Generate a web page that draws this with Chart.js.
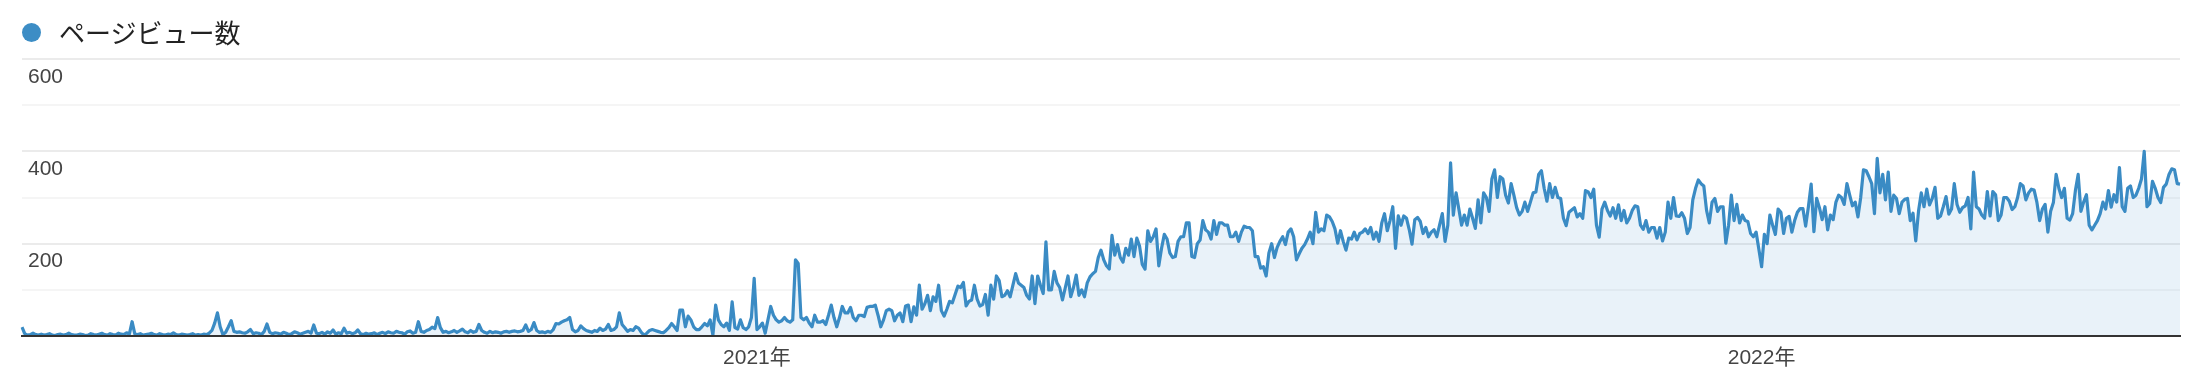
<!DOCTYPE html>
<html lang="ja">
<head>
<meta charset="utf-8">
<script src="https://cdn.jsdelivr.net/npm/chart.js@4.4.1/dist/chart.umd.min.js"></script>
<style>
  html, body { margin: 0; padding: 0; background: #fff; }
  #wrap { position: relative; width: 2202px; height: 378px; }
  #leyenda { position: absolute; left: 22px; top: 17px; height: 30px; display: flex; align-items: center;
             font: 26px/30px "Noto Sans CJK JP", sans-serif; color: #222; }
  #leyenda .punto { width: 19px; height: 19px; border-radius: 50%; background: #3c8dc5; margin-right: 18px; }
  canvas { position: absolute; left: 0; top: 0; }
</style>
</head>
<body>
<div id="wrap">
  <canvas id="grafico" width="2202" height="378"></canvas>
  <div id="leyenda"><span class="punto"></span><span>ページビュー数</span></div>
</div>
<script>
// ページビュー数 (1日ごと), 2020-04-09 から
const fechaInicio = Date.UTC(2020, 3, 9);

const pv2020a = [19, 5, 2, 3, 6, 3, 2, 4, 2, 3, 5, 2, 1, 3, 4, 2, 3, 6, 3, 2, 2, 4, 3, 1, 2, 5, 3, 2, 4, 6, 3, 2, 5, 3, 2, 6, 4, 3, 7, 4,
  31, 4, 3, 5, 2, 3, 4, 6, 3, 2, 5, 3, 2, 4, 3, 7, 3, 2, 4, 3, 2, 3, 5, 2, 3, 2, 4, 3, 6, 12, 28,
  50, 20, 3, 8, 20, 33, 10, 8, 9, 7, 6, 9, 14, 5, 7, 6, 3, 10, 26, 8,
  5, 7, 6, 4, 8, 6, 3, 5, 9, 7, 4, 6, 8, 10, 6,
  24, 6, 5, 8, 4, 9, 6, 13, 4, 7, 5, 17, 6, 8, 5, 7, 13, 5, 3,
  6, 4, 5, 7, 3, 6, 8, 5, 9, 7, 6, 10, 8, 7, 4, 9, 11, 6, 8,
  31, 10, 8, 12, 14, 19, 16, 40, 18, 8, 10, 7, 9, 12, 8, 11, 15, 9, 7, 12, 8, 10,
  25, 12, 8, 6, 10, 7, 9, 8, 6, 9, 10, 8, 10, 11, 9, 10, 12, 24, 10, 14, 29, 12, 8, 9, 7, 10, 8, 14, 27, 26,
  30, 33, 35, 40, 14, 9, 12, 22, 16, 12, 10, 8, 12, 10, 17, 12, 15, 25, 12, 14, 20, 50, 25, 18, 10, 14, 12, 20];

const pv2020b = [17, 8, 2, 6, 12, 14, 12, 10, 8, 7, 12, 18, 27, 20, 12, 56, 56, 20, 43, 35, 20, 14, 14, 20, 27, 22, 35, 2, 67, 35,
  25, 20, 28, 12, 74, 18, 15, 35, 18, 14, 20, 40, 125, 14, 20, 28, 6, 35, 64, 45, 35, 30, 33, 40, 33, 30, 35, 165, 157, 40,
  35, 40, 28, 20, 45, 30, 30, 33, 25, 45, 67, 40, 20, 40, 64, 50, 50, 62, 40, 33, 45, 45, 42, 62, 64, 64, 67, 45, 20, 35,
  55, 58, 55, 33, 45];

const pv2021a = [50, 31, 65, 67, 31, 63, 45, 110, 58, 70, 88, 55, 85, 75, 110, 55, 43, 58, 75, 72, 90, 108, 105, 116, 65, 75, 78, 110, 80, 65,
  68, 90, 45, 110, 80, 130, 120, 85, 88, 98, 85, 110, 135, 115, 110, 105, 88, 80, 130, 70, 130, 110, 92, 204, 100, 100, 140, 115, 105, 78,
  104, 130, 85, 105, 132, 88, 100, 85, 115, 128, 135, 140, 170, 186, 165, 152, 145, 218, 175, 198, 170, 160, 190, 175, 210, 172, 212, 195, 155, 145,
  228, 205, 215, 232];

const pv2021b = [152, 190, 220, 210, 180, 170, 172, 205, 215, 215, 245, 245, 172, 170, 200, 208, 250, 230, 225, 210, 250, 220, 245, 245, 240, 240, 215, 215, 225, 205,
  225, 238, 235, 235, 228, 172, 172, 147, 150, 130, 180, 200, 170, 192, 205, 215, 198, 225, 232, 215, 165, 178, 190, 198, 210, 225, 200, 268, 225, 232,
  228, 262, 258, 248, 232, 201, 228, 205, 186, 212, 210, 225, 208, 222, 225, 232, 222, 235, 210, 225, 205, 245, 265, 228, 250, 280, 190, 260, 240, 260,
  255, 230, 199, 252, 257];

const pv2021c = [248, 222, 235, 215, 225, 230, 215, 240, 265, 205, 240, 375, 262, 310, 275, 240, 262, 240, 275, 255, 233, 295, 245, 310, 300, 270, 340, 360, 300, 345,
  340, 305, 288, 330, 305, 278, 262, 270, 290, 270, 290, 310, 312, 350, 358, 320, 292, 330, 300, 322, 300, 298, 255, 239, 268, 273, 278, 258, 265, 255,
  315, 312, 300, 318, 240, 214, 275, 290, 272, 260, 278, 255, 284, 250, 272, 245, 255, 272, 282, 280, 240, 231, 250, 225, 235, 235, 212, 235, 206, 225,
  290, 255, 300, 260];

const pv2022a = [259, 267, 255, 222, 235, 295, 320, 338, 330, 325, 272, 245, 290, 298, 270, 280, 280, 201, 240, 305, 250, 285, 245, 262, 250, 248, 222, 215, 225, 188,
  150, 220, 200, 262, 240, 220, 275, 268, 222, 255, 259, 225, 250, 268, 276, 276, 238, 280, 329, 226, 298, 278, 252, 280, 230, 262, 252, 290, 305, 300,
  285, 330, 305, 282, 290, 258, 300, 360, 358, 345, 330, 265, 385, 310, 350, 295, 355, 270, 305, 298, 265, 290, 296, 298, 250, 266, 206, 270, 310, 280,
  318, 284, 298, 322, 255];

const pv2022b = [260, 280, 302, 264, 275, 330, 285, 268, 278, 282, 300, 232, 355, 280, 275, 262, 255, 313, 260, 313, 306, 250, 262, 300, 300, 292, 274, 280, 300, 330,
  325, 295, 310, 318, 316, 290, 250, 275, 285, 225, 270, 289, 350, 320, 300, 320, 255, 251, 265, 315, 350, 270, 290, 306, 240, 230, 240, 250, 265, 290,
  275, 315, 279, 306, 290, 365, 280, 270, 320, 325, 300, 305, 320, 340, 400, 280, 287, 335, 320, 300, 289, 322, 329, 350, 362, 360, 330, 329];

const paginas = [].concat(pv2020a, pv2020b, pv2021a, pv2021b, pv2021c, pv2022a, pv2022b);
const dias = paginas.map(function (_, i) {
  return new Date(fechaInicio + i * 86400000).toISOString().slice(0, 10);
});

const fuente = { family: '"Liberation Sans", Arial, "Noto Sans CJK JP", sans-serif', size: 21 };

document.addEventListener('DOMContentLoaded', function () {
  const ctx = document.getElementById('grafico').getContext('2d');

  new Chart(ctx, {
    type: 'line',
    data: {
      labels: dias,
      datasets: [{
        label: 'ページビュー数',
        data: paginas,
        borderColor: '#3a8bc4',
        backgroundColor: 'rgba(59, 140, 196, 0.11)',
        borderWidth: 3.2,
        borderJoinStyle: 'round',
        pointRadius: 0,
        tension: 0,
        fill: 'origin'
      }]
    },
    options: {
      responsive: false,
      animation: false,
      layout: { padding: { left: 22, right: 22, top: 59, bottom: 0 } },
      plugins: {
        legend: { display: false },
        tooltip: { enabled: false }
      },
      scales: {
        x: {
          grid: { display: false, drawTicks: false },
          border: { color: '#333', width: 2, z: 1 },
          ticks: {
            autoSkip: false,
            maxRotation: 0,
            padding: 10,
            color: '#444',
            font: fuente,
            callback: function (v) { return dias[v].slice(0, 4) + '年'; }
          },
          // 1月1日だけ目盛りを残す
          afterBuildTicks: function (scale) {
            scale.ticks = scale.ticks.filter(function (t) { return dias[t.value].endsWith('-01-01'); });
          },
          afterFit: function (scale) { scale.height = 42; }
        },
        y: {
          min: 0,
          max: 600,
          ticks: {
            stepSize: 100,
            mirror: true,
            padding: 6,
            labelOffset: 18,
            color: '#444',
            font: fuente,
            callback: function (v) { return (v > 0 && v % 200 === 0) ? String(v) : ''; }
          },
          grid: {
            drawTicks: false,
            color: function (c) { return c.tick.value % 200 === 0 ? '#ebebeb' : '#f5f5f5'; },
            lineWidth: 2
          },
          border: { display: false },
          afterFit: function (scale) { scale.width = 0; }
        }
      }
    }
  });
});
</script>
</body>
</html>
